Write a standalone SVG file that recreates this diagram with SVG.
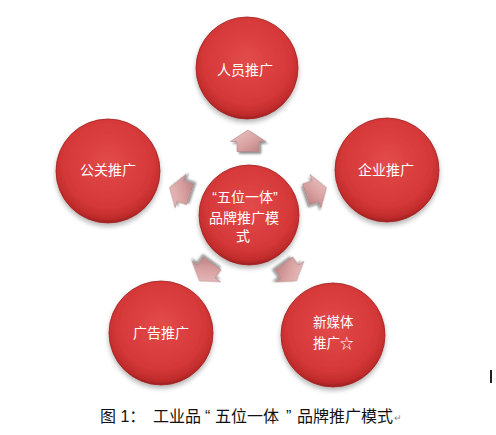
<svg xmlns="http://www.w3.org/2000/svg" width="496" height="435" viewBox="0 0 496 435">
<defs>
<radialGradient id="red" cx="50%" cy="42%" r="58%">
<stop offset="0" stop-color="#e34a4a"/>
<stop offset="0.74" stop-color="#d53838"/>
<stop offset="0.93" stop-color="#c02b2b"/>
<stop offset="1" stop-color="#9a2020"/>
</radialGradient>
<linearGradient id="pink" x1="0" y1="0" x2="1" y2="1">
<stop offset="0" stop-color="#efc6c6"/>
<stop offset="0.55" stop-color="#d9a2a2"/>
<stop offset="1" stop-color="#b97c7c"/>
</linearGradient>
<filter id="sh" x="-30%" y="-30%" width="160%" height="170%">
<feGaussianBlur in="SourceAlpha" stdDeviation="2.5"/>
<feOffset dx="0" dy="3" result="b"/>
<feComponentTransfer><feFuncA type="linear" slope="0.3"/></feComponentTransfer>
<feMerge><feMergeNode/><feMergeNode in="SourceGraphic"/></feMerge>
</filter>
<filter id="ash" x="-40%" y="-40%" width="180%" height="180%">
<feGaussianBlur in="SourceAlpha" stdDeviation="1"/>
<feOffset dx="1.5" dy="1.5"/>
<feComponentTransfer><feFuncA type="linear" slope="0.45"/></feComponentTransfer>
<feMerge><feMergeNode/><feMergeNode in="SourceGraphic"/></feMerge>
</filter>
<path id="arr" d="M0,-11 L17.5,0.5 L11,0.5 L11,10.5 L-11,10.5 L-11,0.5 L-17.5,0.5 Z"/>
</defs>
<style>
.c{fill:url(#red);stroke:#a02222;stroke-width:0.8;filter:url(#sh)}
.t{font-family:"Liberation Sans","Noto Sans CJK SC",sans-serif;font-size:14px;fill:#ffffff;text-anchor:middle}
.tl{font-family:"Liberation Sans","Noto Sans CJK SC",sans-serif;font-size:13.5px;fill:#ffffff}
.a{fill:url(#pink);stroke:#a88080;stroke-width:0.6;filter:url(#ash)}
.cap{font-family:"Liberation Sans","Noto Sans CJK SC",sans-serif;font-size:16px;fill:#111111}
</style>
<rect width="496" height="435" fill="#ffffff"/>

<g id="connectors">
<use href="#arr" class="a" transform="translate(248,141)"/>
<use href="#arr" class="a" transform="translate(316,191) rotate(72)"/>
<use href="#arr" class="a" transform="translate(290,272) rotate(144)"/>
<use href="#arr" class="a" transform="translate(206,272) rotate(216)"/>
<use href="#arr" class="a" transform="translate(180,191) rotate(288)"/>
</g>

<g id="center">
<circle class="c" cx="249" cy="215" r="50"/>
<text class="t" x="245" y="202" font-size="13.5">“五位一体”</text>
<text class="t" x="244" y="223" font-size="13.5">品牌推广模</text>
<text class="t" x="243" y="241" font-size="13.5">式</text>
</g>

<g id="renyuan">
<circle class="c" cx="247" cy="68" r="51"/>
<text class="t" x="245" y="75">人员推广</text>
</g>

<g id="qiye">
<circle class="c" cx="387" cy="170" r="52"/>
<text class="t" x="386" y="175">企业推广</text>
</g>

<g id="xinmeiti">
<circle class="c" cx="333" cy="335" r="52"/>
<text class="tl" x="313" y="327">新媒体</text>
<text class="tl" x="313" y="348">推广☆</text>
</g>

<g id="guanggao">
<circle class="c" cx="161" cy="333" r="52"/>
<text class="t" x="161" y="338">广告推广</text>
</g>

<g id="gongguan">
<circle class="c" cx="108" cy="171" r="52"/>
<text class="t" x="108" y="175">公关推广</text>
</g>

<g id="caption">
<text class="cap" y="422"><tspan x="100">图 1：</tspan><tspan x="153">工业品</tspan><tspan x="205">“</tspan><tspan x="215">五位一体</tspan><tspan x="286">”</tspan><tspan x="297">品牌推广模式</tspan></text>
<text x="394" y="421" font-family="Liberation Sans, sans-serif" font-size="9" fill="#888888">↵</text>
</g>
<rect x="490" y="370" width="2" height="13" fill="#222222"/>
</svg>
